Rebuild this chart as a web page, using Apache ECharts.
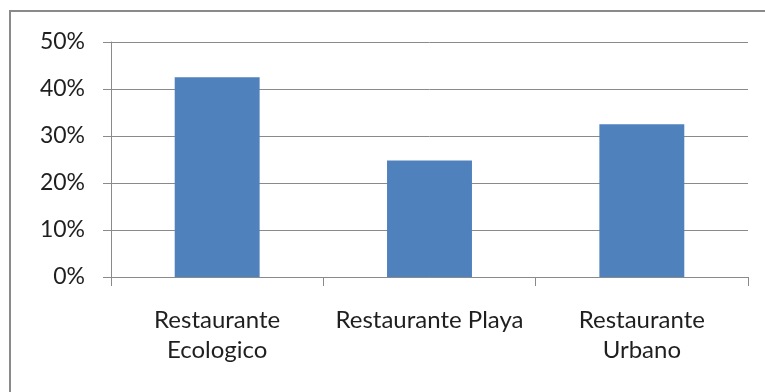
<!DOCTYPE html>
<html>
<head>
<meta charset="utf-8">
<script src="https://cdn.jsdelivr.net/npm/echarts@6/dist/echarts.min.js"></script>
<style>
  html, body { margin: 0; padding: 0; background: #fff; }
  #chart { width: 765px; height: 392px; }
</style>
</head>
<body>
<div id="chart"></div>
<script>
// Share of responses per restaurant type
const categories = ['Restaurante\nEcologico', 'Restaurante Playa', 'Restaurante\nUrbano'];
const shares = [0.425, 0.248, 0.325];

// Value axis range and step
const axisMin = 0;
const axisMax = 0.5;
const axisStep = 0.1;

const lineGray = '#8a8a8a';
const textColor = '#1f1f1f';
const fontFamily = 'Lato';

const chart = echarts.init(document.getElementById('chart'), null, { renderer: 'canvas' });

chart.setOption({
  animation: false,
  backgroundColor: '#ffffff',
  graphic: [{
    type: 'rect',
    shape: { x: 10, y: 11, width: 800, height: 500 },
    style: { fill: 'none', stroke: lineGray, lineWidth: 2 },
    silent: true
  }],
  grid: { left: 111, right: 17, top: 42, bottom: 115 },
  xAxis: {
    type: 'category',
    data: categories,
    axisLine: { lineStyle: { color: lineGray, width: 1 } },
    axisTick: { show: true, length: 9, lineStyle: { color: lineGray } },
    axisLabel: {
      margin: 28,
      color: textColor,
      fontFamily: fontFamily,
      fontSize: 24,
      lineHeight: 30,
      interval: 0
    },
    splitLine: { show: false }
  },
  yAxis: {
    type: 'value',
    min: axisMin,
    max: axisMax,
    interval: axisStep,
    axisLine: { show: true, lineStyle: { color: lineGray, width: 1 } },
    axisTick: { show: true, length: 8, lineStyle: { color: lineGray } },
    axisLabel: {
      margin: 26,
      color: textColor,
      fontFamily: fontFamily,
      fontSize: 23,
      formatter: v => Math.round(v * 100) + '%'
    },
    splitLine: { show: true, lineStyle: { color: lineGray, width: 1 } }
  },
  series: [{
    type: 'bar',
    data: shares,
    barWidth: '40%',
    itemStyle: { color: '#4f81bd' }
  }]
});
</script>
</body>
</html>
